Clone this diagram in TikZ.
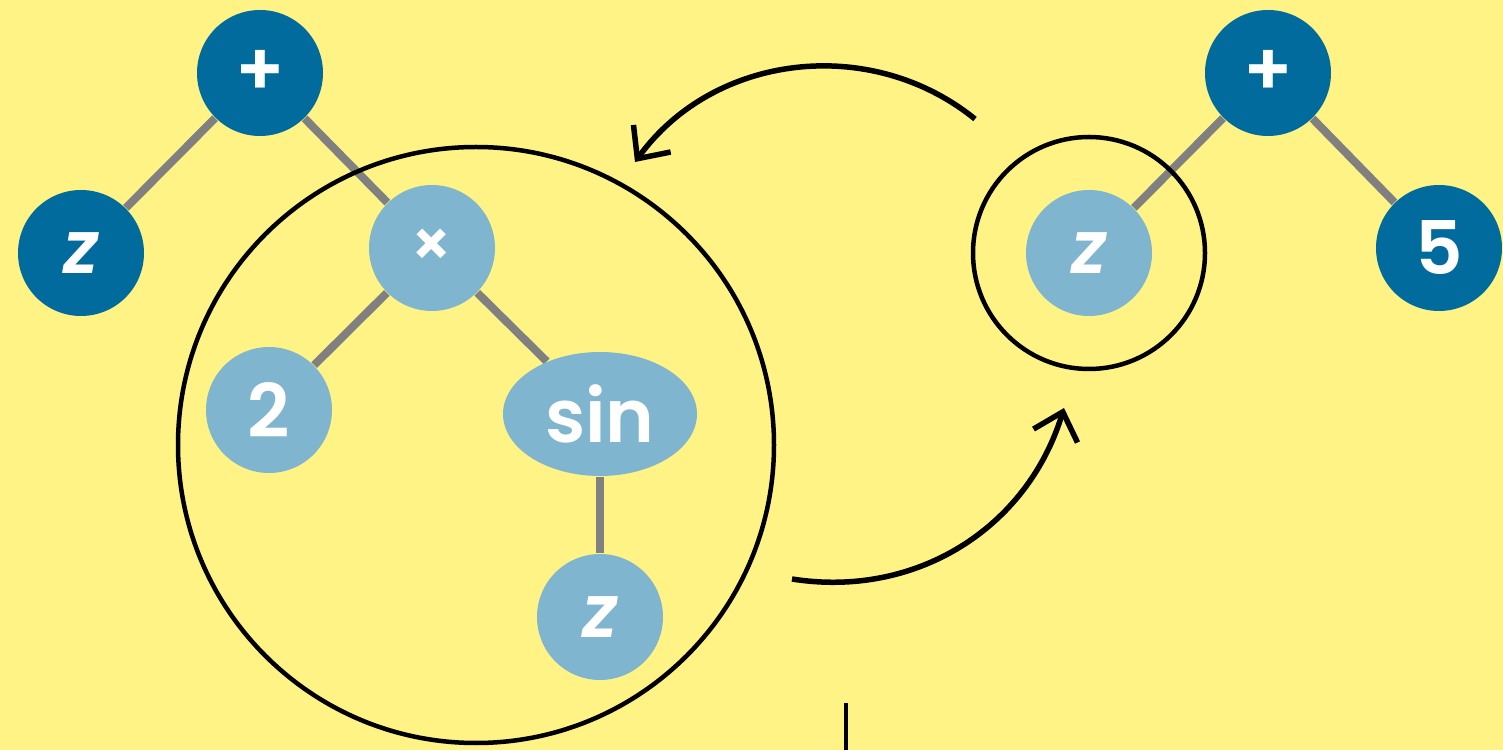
\documentclass[tikz,border=0pt]{standalone}
\usepackage{fontspec}
\setmainfont{Poppins}[BoldFont=* SemiBold,BoldItalicFont=* SemiBold Italic]
\usetikzlibrary{arrows.meta,shapes.geometric}

\definecolor{bgyellow}{HTML}{FFF385}
\definecolor{darkop}{HTML}{006B9C}
\definecolor{lightop}{HTML}{7FB5CE}
\definecolor{edgegray}{HTML}{808080}

\pgfdeclarelayer{bg}
\pgfdeclarelayer{edges}
\pgfsetlayers{bg,edges,main}

\newcommand{\plusop}{\raisebox{-0.04cm}{+}}

\begin{document}
\begin{tikzpicture}[arrow/.style = {line width=0.055cm,-{Straight Barb[length=0.25cm,width=0.46cm]}},
                    treenode/.style = {circle,minimum size=1.26cm,inner sep=0pt,text=white,
                                       font=\fontsize{21}{24}\selectfont\bfseries},
                    darknode/.style = {treenode,fill=darkop},
                    lightnode/.style = {treenode,fill=lightop},
                    branch/.style = {edgegray,line width=0.08cm},
                    ring/.style = {circle,draw=black,line width=0.045cm,inner sep=0pt}]
                    \useasboundingbox (0,0) rectangle (15.03,7.5);
                    \begin{pgfonlayer}{bg}
                        \fill[bgyellow] (0,0) rectangle (15.03,7.5);
                    \end{pgfonlayer}

                    % left tree
                    \node[darknode]  (plusL) at (2.60,6.77) {\plusop};
                    \node[darknode]  (zL)    at (0.81,4.97) {\itshape z};
                    \node[lightnode] (times) at (4.32,5.02) {\fontsize{18}{20}\selectfont ×};
                    \node[lightnode] (two)   at (2.69,3.40) {2};
                    \node[lightnode,ellipse,minimum width=1.94cm,minimum height=1.24cm] (sin) at (6.00,3.36) {sin};
                    \node[lightnode] (zB)    at (6.00,1.33) {\itshape z};

                    % right tree
                    \node[darknode]  (plusR) at (12.68,6.77) {\plusop};
                    \node[lightnode] (zR)    at (10.89,4.97) {\itshape z};
                    \node[darknode]  (five)  at (14.39,5.02) {5};

                    % rings
                    \node[ring,minimum size=5.96cm] (bigring)   at (4.76,3.05) {};
                    \node[ring,minimum size=2.32cm] (smallring) at (10.89,4.97) {};

                    % branches
                    \begin{pgfonlayer}{edges}
                        \draw[branch] (plusL) -- (zL);
                        \draw[branch] (plusL) -- (times);
                        \draw[branch] (times) -- (two);
                        \draw[branch] (times) -- (sin);
                        \draw[branch] (sin) -- (zB);
                        \draw[branch] (plusR) -- (zR);
                        \draw[branch] (plusR) -- (five);
                    \end{pgfonlayer}

                    % swap arrows
                    \coordinate (outtop) at (9.75,6.31);
                    \coordinate (intop)  at (6.35,5.88);
                    \coordinate (outlow) at (7.92,1.71);
                    \coordinate (inlow)  at (10.64,3.42);
                    \draw[arrow] (outtop) to[out=141,in=54] (intop);
                    \draw[arrow] (outlow) to[out=-9,in=253] (inlow);

                    % cursor
                    \coordinate (cursortop) at (8.46,0.47);
                    \coordinate (cursorbot) at (8.46,0);
                    \draw[line width=0.045cm] (cursortop) -- (cursorbot);

                \end{tikzpicture}
\end{document}
